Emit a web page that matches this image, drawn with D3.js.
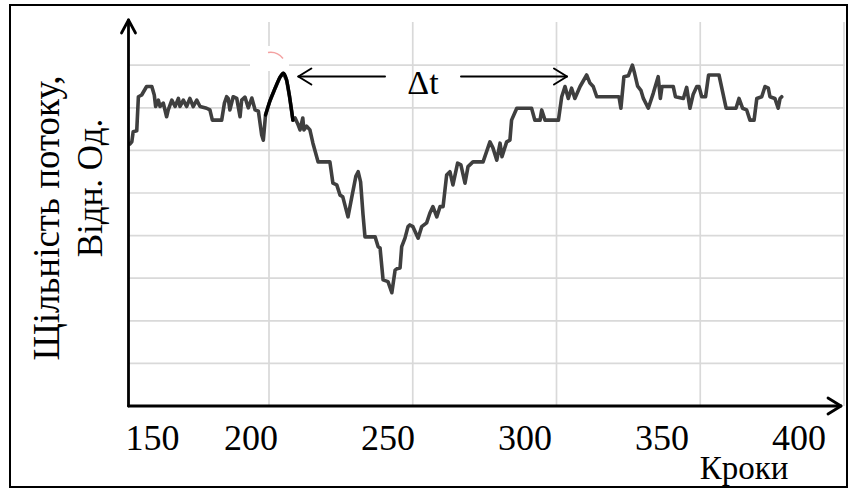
<!DOCTYPE html>
<html>
<head>
<meta charset="utf-8">
<script src="https://cdn.jsdelivr.net/npm/d3@7"></script>
<style>
  html, body { margin: 0; padding: 0; background: #fff; }
  svg { display: block; }
</style>
</head>
<body>
<svg id="chart" width="850" height="492"></svg>
<script>
// Flux density vs. simulation step
const steps = [
  155.8, 156.5, 157.0, 158.3, 158.9, 160.1, 161.9, 163.8, 164.7, 165.2,
  166.2, 166.8, 168.0, 169.2, 169.8, 171.1, 172.3, 173.5, 174.1, 175.3,
  176.5, 177.7, 178.9, 180.2, 181.4, 183.8, 185.0, 185.9, 189.3, 190.3,
  191.1, 191.7, 192.3, 193.5, 194.8, 196.0, 196.6, 197.8, 199.0, 200.3,
  201.5, 202.7, 203.9, 204.5, 205.3, 206.9, 208.8, 210.6, 211.8, 213.0,
  214.1, 215.3, 216.1, 217.2, 217.9, 218.9, 219.3, 220.3, 221.5, 222.6,
  224.5, 228.8, 229.9, 231.3, 232.5, 233.5, 235.4, 236.8, 238.3, 239.1,
  240.0, 240.9, 241.6, 245.3, 246.4, 247.1, 248.2, 250.0, 251.4, 252.6,
  253.2, 254.4, 255.0, 256.2, 257.3, 258.0, 259.1, 261.0, 262.3, 264.1,
  265.3, 266.4, 267.8, 269.0, 270.1, 271.4, 272.6, 273.7, 275.4, 276.6,
  278.1, 279.2, 281.0, 284.7, 287.2, 288.3, 289.7, 290.9, 291.6, 293.3,
  294.5, 295.1, 297.0, 302.4, 303.6, 305.5, 306.1, 307.3, 312.2, 313.4,
  314.6, 315.8, 317.0, 318.2, 320.1, 322.5, 323.7, 324.9, 326.2, 334.3,
  335.0, 336.1, 337.7, 339.2, 340.0, 341.1, 342.3, 343.2, 345.0, 346.8,
  348.6, 349.4, 350.0, 354.1, 354.9, 357.8, 359.0, 360.2, 361.4, 362.7,
  363.5, 364.5, 365.9, 367.0, 370.8, 373.4, 377.0, 378.1, 379.4, 380.9,
  382.1, 383.6, 384.6, 386.4, 387.6, 388.8, 389.4, 391.2, 392.4, 393.1,
  393.7
];
const density = [
  0.615, 0.620, 0.644, 0.646, 0.726, 0.730, 0.750, 0.750, 0.730, 0.703,
  0.718, 0.703, 0.711, 0.679, 0.695, 0.718, 0.703, 0.722, 0.703, 0.718,
  0.703, 0.722, 0.703, 0.718, 0.703, 0.699, 0.695, 0.671, 0.671, 0.711,
  0.726, 0.722, 0.695, 0.726, 0.722, 0.679, 0.718, 0.725, 0.700, 0.723,
  0.695, 0.692, 0.636, 0.624, 0.683, 0.716, 0.746, 0.772, 0.781, 0.765,
  0.725, 0.671, 0.676, 0.660, 0.648, 0.676, 0.648, 0.657, 0.648, 0.617,
  0.573, 0.573, 0.523, 0.519, 0.495, 0.491, 0.444, 0.491, 0.540, 0.550,
  0.526, 0.448, 0.397, 0.397, 0.374, 0.371, 0.296, 0.292, 0.266, 0.319,
  0.322, 0.324, 0.374, 0.394, 0.421, 0.425, 0.421, 0.394, 0.421, 0.430,
  0.453, 0.468, 0.444, 0.468, 0.468, 0.542, 0.550, 0.519, 0.570, 0.566,
  0.523, 0.562, 0.573, 0.573, 0.620, 0.606, 0.577, 0.617, 0.585, 0.620,
  0.624, 0.671, 0.699, 0.699, 0.671, 0.671, 0.695, 0.671, 0.671, 0.726,
  0.750, 0.722, 0.746, 0.722, 0.750, 0.777, 0.758, 0.750, 0.726, 0.726,
  0.699, 0.773, 0.775, 0.800, 0.781, 0.751, 0.741, 0.722, 0.699, 0.734,
  0.773, 0.722, 0.750, 0.750, 0.726, 0.722, 0.748, 0.699, 0.732, 0.750,
  0.750, 0.726, 0.726, 0.777, 0.777, 0.699, 0.699, 0.722, 0.699, 0.695,
  0.671, 0.671, 0.722, 0.726, 0.750, 0.746, 0.726, 0.722, 0.699, 0.722,
  0.726
];
const tickSteps = [150, 200, 250, 300, 350, 400];
const gridDensity = [0.1, 0.2, 0.3, 0.4, 0.5, 0.6, 0.7, 0.8];
const peakSteps = [205.3, 215.3];   // highlighted leading peak
const recoveryStep = 314.6;         // where the flux returns to its level

const yTitle = ["Щільність потоку,", "Відн. Од."];
const xTitle = "Кроки";
const deltaLabel = "Δt";

// ---- layout ----
const serif = "'Liberation Serif', 'Times New Roman', serif";
const axisX = 128.5, axisY = 406, axisTop = 20, axisRight = 841;
const gridRight = 845, gridTop = 22;

const x = d3.scaleLinear().domain([200, 350]).range([251, 662]);
const y = d3.scaleLinear().domain([0, 0.9]).range([axisY, axisY - 383.4]);

const svg = d3.select("#chart");
svg.append("rect").attr("width", 850).attr("height", 492).attr("fill", "#fff");

// outer frame
svg.append("rect")
  .attr("x", 10).attr("y", 5).attr("width", 837).attr("height", 482)
  .attr("fill", "none").attr("stroke", "#000").attr("stroke-width", 2);

// grid
const grid = svg.append("g").attr("stroke", "#d9d9d9").attr("stroke-width", 1.7);
grid.selectAll("line.h").data(gridDensity).join("line")
  .attr("class", "h")
  .attr("x1", axisX).attr("x2", gridRight)
  .attr("y1", d => y(d)).attr("y2", d => y(d));
grid.selectAll("line.v").data(d3.range(5).map(i => 269 + i * 143.75)).join("line")
  .attr("class", "v")
  .attr("x1", d => d).attr("x2", d => d)
  .attr("y1", gridTop).attr("y2", axisY);

// cleared patch with a small red arc above the peak
svg.append("rect").attr("x", 250).attr("y", 46).attr("width", 39).attr("height", 25)
  .attr("fill", "#fff");
svg.append("path")
  .attr("d", "M268,52.5 Q277,51 283,58.5")
  .attr("fill", "none").attr("stroke", "#f08a8a").attr("stroke-width", 1.4)
  .attr("opacity", 0.8);

// series
const points = steps.map((s, i) => ({ s, v: density[i] }));
const line = d3.line().x(d => x(d.s)).y(d => y(d.v));
svg.append("path").datum(points)
  .attr("d", line)
  .attr("fill", "none").attr("stroke", "#3f3f3f").attr("stroke-width", 3.6)
  .attr("stroke-linejoin", "round").attr("stroke-linecap", "round");

const peak = points.filter(d => d.s >= peakSteps[0] && d.s <= peakSteps[1]);
svg.append("path").datum(peak)
  .attr("d", line.curve(d3.curveMonotoneX))
  .attr("fill", "none").attr("stroke", "#000").attr("stroke-width", 3.4)
  .attr("stroke-linejoin", "round").attr("stroke-linecap", "round");

// axes with open arrowheads
const axes = svg.append("g").attr("stroke", "#000").attr("fill", "none")
  .attr("stroke-width", 2.8).attr("stroke-linecap", "round").attr("stroke-linejoin", "round");
axes.append("line").attr("x1", axisX).attr("x2", axisX).attr("y1", axisY).attr("y2", axisTop);
axes.append("path").attr("d", `M${axisX - 7},${axisTop + 13} L${axisX},${axisTop} L${axisX + 7},${axisTop + 13}`);
axes.append("line").attr("x1", axisX).attr("x2", axisRight).attr("y1", axisY).attr("y2", axisY);
axes.append("path").attr("d", `M${axisRight - 13},${axisY - 8} L${axisRight},${axisY} L${axisRight - 13},${axisY + 8}`);

// tick labels
svg.append("g").selectAll("text").data(tickSteps).join("text")
  .attr("x", d => Math.max(axisX + 24, x(d)))
  .attr("y", 450)
  .attr("text-anchor", "middle")
  .attr("font-family", serif).attr("font-size", 36).attr("fill", "#000")
  .text(d => d);

// axis titles
svg.append("text")
  .attr("x", 744).attr("y", 479)
  .attr("text-anchor", "middle")
  .attr("font-family", serif).attr("font-size", 33).attr("fill", "#000")
  .text(xTitle);

svg.append("text")
  .attr("transform", "translate(59,218) rotate(-90)")
  .attr("text-anchor", "middle")
  .attr("font-family", serif).attr("font-size", 37).attr("fill", "#000")
  .text(yTitle[0]);
svg.append("text")
  .attr("transform", "translate(102,188) rotate(-90)")
  .attr("text-anchor", "middle")
  .attr("font-family", serif).attr("font-size", 35).attr("fill", "#000")
  .text(yTitle[1]);

// Δt interval between the peak and the recovery
const peakTop = peak.reduce((a, b) => (b.v > a.v ? b : a));
const arrowY = 76.5;
const leftTip = x(peakTop.s) + 15, rightTip = x(recoveryStep) + 2;
const dt = svg.append("g").attr("stroke", "#000").attr("stroke-width", 2)
  .attr("fill", "none").attr("stroke-linecap", "round").attr("stroke-linejoin", "round");
dt.append("line").attr("x1", leftTip).attr("x2", 385).attr("y1", arrowY).attr("y2", arrowY);
dt.append("path").attr("d", `M${leftTip + 13},${arrowY - 8} L${leftTip},${arrowY} L${leftTip + 13},${arrowY + 8}`);
dt.append("line").attr("x1", 461).attr("x2", rightTip).attr("y1", arrowY).attr("y2", arrowY);
dt.append("path").attr("d", `M${rightTip - 13},${arrowY - 8} L${rightTip},${arrowY} L${rightTip - 13},${arrowY + 8}`);

svg.append("text")
  .attr("x", 423).attr("y", 94)
  .attr("text-anchor", "middle")
  .attr("font-family", serif).attr("font-size", 34).attr("fill", "#000")
  .text(deltaLabel);
</script>
</body>
</html>
